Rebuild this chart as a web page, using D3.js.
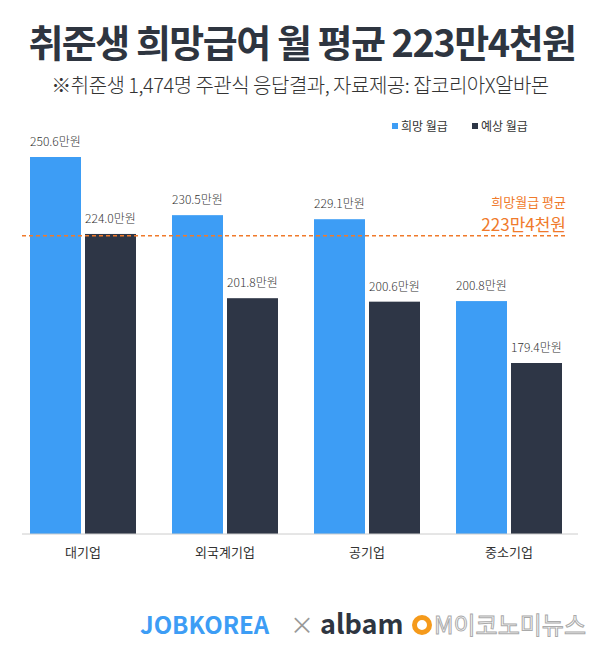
<!DOCTYPE html>
<html><head><meta charset="utf-8">
<script src="https://cdn.jsdelivr.net/npm/d3@7"></script>
<style>body{margin:0;background:#fff}text{font-family:"Noto Sans CJK KR","Noto Sans",sans-serif}</style>
</head><body>
<script>
const categories = ["대기업", "외국계기업", "공기업", "중소기업"];
const hopeValues = [250.6, 230.5, 229.1, 200.8];
const expectValues = [224.0, 201.8, 200.6, 179.4];
const seriesNames = ["희망 월급", "예상 월급"];
const averageValue = 223.4;

const colors = ["#3d9df5", "#2e3646"];
const svg = d3.select("body").append("svg").attr("width", 600).attr("height", 659);

svg.append("text").attr("x", 302).attr("y", 57).attr("text-anchor", "middle")
    .attr("font-size", 38).attr("font-weight", 700).attr("fill", "#2e3540").attr("letter-spacing", -1.5)
    .text("취준생 희망급여 월 평균 223만4천원");
svg.append("text").attr("x", 300).attr("y", 93).attr("text-anchor", "middle")
    .attr("font-size", 20).attr("font-weight", 300).attr("fill", "#333").attr("letter-spacing", -0.5)
    .text("※취준생 1,474명 주관식 응답결과,  자료제공: 잡코리아X알바몬");

// legend
seriesNames.forEach((n, i) => {
    let lx = 392 + i * 80;
    svg.append("rect").attr("x", lx).attr("y", 123).attr("width", 6).attr("height", 6).attr("fill", colors[i]);
    svg.append("text").attr("x", lx + 9).attr("y", 131).attr("font-size", 12).attr("fill", "#333").text(n);
});

let x0 = d3.scaleBand().domain(categories).range([30, 562]).paddingInner(36 / 142).paddingOuter(0);
let x1 = d3.scaleBand().domain([0, 1]).range([0, x0.bandwidth()]).paddingInner(4 / 55).paddingOuter(0);
let y = d3.scaleLinear().domain([120.3, 250.6]).range([534, 157]);

categories.forEach((c, i) => {
    [hopeValues[i], expectValues[i]].forEach((v, j) => {
        let bx = x0(c) + x1(j);
        svg.append("rect").attr("x", bx).attr("y", y(v)).attr("width", x1.bandwidth())
            .attr("height", 534 - y(v)).attr("fill", colors[j]);
        svg.append("text").attr("x", bx + x1.bandwidth() / 2).attr("y", y(v) - 11)
            .attr("text-anchor", "middle").attr("font-size", 12).attr("font-weight", 300).attr("fill", "#333")
            .text(v.toFixed(1) + "만원");
    });
    svg.append("text").attr("x", x0(c) + x0.bandwidth() / 2).attr("y", 557)
        .attr("text-anchor", "middle").attr("font-size", 13).attr("fill", "#333").text(c);
});

svg.append("line").attr("x1", 22).attr("x2", 578).attr("y1", 534).attr("y2", 534)
    .attr("stroke", "#ccc");

// average line
svg.append("line").attr("x1", 22).attr("x2", 568).attr("y1", y(averageValue)).attr("y2", y(averageValue))
    .attr("stroke", "#f07a2b").attr("stroke-width", 1.5).attr("stroke-dasharray", "4,3");
svg.append("text").attr("x", 566).attr("y", 207).attr("text-anchor", "end")
    .attr("font-size", 13).attr("fill", "#f07a2b").text("희망월급 평균");
svg.append("text").attr("x", 566).attr("y", 231).attr("text-anchor", "end")
    .attr("font-size", 17).attr("fill", "#f07a2b").text("223만4천원");

// footer logos
svg.append("text").attr("x", 140).attr("y", 634).attr("font-size", 24).attr("font-weight", 700)
    .attr("fill", "#3d9df5").text("JOBKOREA");
svg.append("text").attr("x", 290).attr("y", 634).attr("font-size", 24).attr("fill", "#999").text("×");
svg.append("text").attr("x", 320).attr("y", 634).attr("font-size", 27).attr("font-weight", 700)
    .attr("fill", "#2e3540").text("albam");
svg.append("circle").attr("cx", 422).attr("cy", 625).attr("r", 7.5).attr("fill", "none")
    .attr("stroke", "#f59a1b").attr("stroke-width", 5);
svg.append("text").attr("x", 434).attr("y", 634).attr("font-size", 24).attr("fill", "#fff")
    .attr("stroke", "#aaa").attr("stroke-width", 1).text("M이코노미뉴스");
</script>
</body></html>
